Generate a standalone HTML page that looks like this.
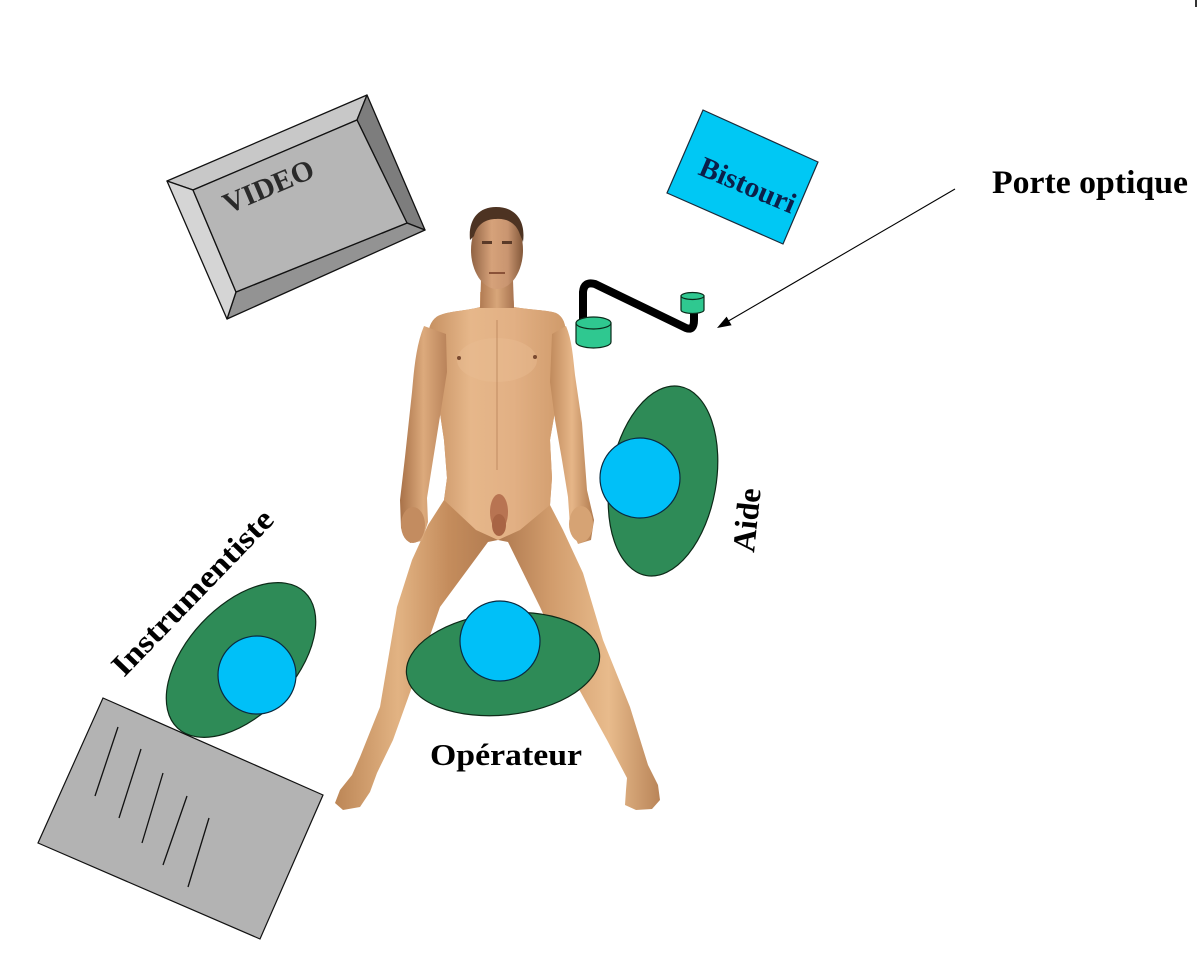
<!DOCTYPE html>
<html>
<head>
<meta charset="utf-8">
<style>
html,body{margin:0;padding:0;background:#fff;}
svg{display:block;}
text{font-family:"Liberation Serif",serif;font-weight:bold;}
</style>
</head>
<body>
<svg width="1199" height="955" viewBox="0 0 1199 955" xmlns="http://www.w3.org/2000/svg">
<defs>
<linearGradient id="skin" x1="395" y1="0" x2="610" y2="0" gradientUnits="userSpaceOnUse">
<stop offset="0" stop-color="#8e5e3a"/>
<stop offset="0.15" stop-color="#c58f60"/>
<stop offset="0.35" stop-color="#e6b78a"/>
<stop offset="0.55" stop-color="#e2b084"/>
<stop offset="0.8" stop-color="#cf9a6a"/>
<stop offset="1" stop-color="#9a6a42"/>
</linearGradient>
<linearGradient id="leg" x1="330" y1="0" x2="670" y2="0" gradientUnits="userSpaceOnUse">
<stop offset="0" stop-color="#b98252"/>
<stop offset="0.2" stop-color="#e2b383"/>
<stop offset="0.35" stop-color="#c48c5c"/>
<stop offset="0.5" stop-color="#b07a50"/>
<stop offset="0.65" stop-color="#d19c6c"/>
<stop offset="0.82" stop-color="#e8bb8c"/>
<stop offset="1" stop-color="#b07a4e"/>
</linearGradient>
<linearGradient id="face" x1="470" y1="0" x2="524" y2="0" gradientUnits="userSpaceOnUse">
<stop offset="0" stop-color="#8d5f40"/>
<stop offset="0.4" stop-color="#d6a27a"/>
<stop offset="0.7" stop-color="#c99570"/>
<stop offset="1" stop-color="#7e5436"/>
</linearGradient>
<linearGradient id="neck" x1="480" y1="0" x2="514" y2="0" gradientUnits="userSpaceOnUse">
<stop offset="0" stop-color="#b07a52"/>
<stop offset="0.5" stop-color="#d8a67a"/>
<stop offset="1" stop-color="#a87450"/>
</linearGradient>
<linearGradient id="larm" x1="400" y1="0" x2="447" y2="0" gradientUnits="userSpaceOnUse">
<stop offset="0" stop-color="#a87148"/>
<stop offset="0.5" stop-color="#dcaa7c"/>
<stop offset="1" stop-color="#b9835a"/>
</linearGradient>
<linearGradient id="rarm" x1="550" y1="0" x2="594" y2="0" gradientUnits="userSpaceOnUse">
<stop offset="0" stop-color="#c08a5c"/>
<stop offset="0.5" stop-color="#e6b688"/>
<stop offset="1" stop-color="#b07a4e"/>
</linearGradient>
</defs>

<!-- top-right tick -->
<line x1="1196" y1="0" x2="1196" y2="7" stroke="#333" stroke-width="2"/>

<!-- VIDEO box -->
<g stroke="#111" stroke-width="1.3" stroke-linejoin="round">
<polygon points="167,181 367,95 357,120 193,190" fill="#c8c8c8"/>
<polygon points="367,95 425,230 407,223 357,120" fill="#7d7d7d"/>
<polygon points="425,230 227,319 236,292 407,223" fill="#939393"/>
<polygon points="227,319 167,181 193,190 236,292" fill="#d5d5d5"/>
<polygon points="193,190 357,120 407,223 236,292" fill="#b6b6b6"/>
</g>
<text x="228" y="214" font-size="29" fill="#2a2a2a" transform="rotate(-23 228 214)" textLength="96" lengthAdjust="spacingAndGlyphs">VIDEO</text>

<!-- Bistouri -->
<polygon points="703,110 818,162 783,244 667,193" fill="#00c8f4" stroke="#1a2a3a" stroke-width="1.2"/>
<text x="697" y="174" font-size="29" fill="#0b1f4a" transform="rotate(23 697 174)" textLength="102" lengthAdjust="spacingAndGlyphs">Bistouri</text>

<!-- Porte optique label & arrow -->
<text x="992" y="193" font-size="33" fill="#000" textLength="196" lengthAdjust="spacingAndGlyphs">Porte optique</text>
<line x1="955" y1="189" x2="725" y2="323" stroke="#000" stroke-width="1.1"/>
<polygon points="717,328 731.6,325.2 726.6,316.6" fill="#000"/>

<!-- Human figure -->
<g>
<path d="M480,292 L513,292 L514,307 C530,310 548,310 556,313 C566,318 568,330 565,360 L557,400 L550,440 L552,478 L550,505
 L563,530 L583,573 L603,640 L630,707 L648,765 L658,785 L660,800 L652,809 L636,810 L625,805 L626,790 L627,778
 L607,740 L570,673 L540,607 L508,542 L498,540 L488,542
 L440,607 L417,673 L393,740 L377,773 L370,792 L360,807 L343,810 L335,803 L340,790 L352,775 L360,757
 L380,707 L397,607 L412,560 L428,525 L444,500 L447,478 L444,440 L438,400 L430,360 C426,335 428,322 438,316 C448,311 466,311 480,307 Z" fill="url(#leg)"/>
<path d="M480,292 L513,292 L514,307 C530,310 548,310 556,313 C566,318 568,330 565,360 L557,400 L550,440 L552,478 L550,505 L520,530 L498,540 L476,530 L444,500 L447,478 L444,440 L438,400 L430,360 C426,335 428,322 438,316 C448,311 466,311 480,307 Z" fill="url(#skin)"/>
<!-- left arm -->
<path d="M424,326 C416,345 414,370 412,392 L405,457 L400,500 L401,528 L410,543 L422,541 L428,522 L427,498 L433,460 L441,410 L447,372 L446,334 Z" fill="url(#larm)"/>
<!-- right arm -->
<path d="M566,326 C572,340 573,357 575,375 L582,423 L587,490 L594,520 L591,540 L578,544 L570,526 L568,497 L562,460 L555,420 L550,382 L552,334 Z" fill="url(#rarm)"/>
<!-- chest details -->
<ellipse cx="497" cy="360" rx="40" ry="22" fill="#e9bd92" opacity="0.45"/>
<circle cx="459" cy="358" r="2" fill="#7a4a30"/>
<circle cx="535" cy="357" r="2" fill="#7a4a30"/>
<line x1="497" y1="320" x2="497" y2="470" stroke="#b8835a" stroke-width="2" opacity="0.4"/>
<!-- genitals -->
<ellipse cx="499" cy="512" rx="9" ry="18" fill="#b87452"/>
<ellipse cx="499" cy="525" rx="7" ry="11" fill="#a86444"/>
<!-- neck -->
<path d="M481,280 L513,280 L514,308 L480,308 Z" fill="url(#neck)"/>
<!-- head -->
<ellipse cx="497" cy="250" rx="26" ry="39" fill="url(#face)"/>
<path d="M470,240 C468,220 478,207 496,207 C515,207 526,220 523,242 L519,232 C515,222 505,218 496,219 C486,219 477,224 474,236 Z" fill="#4d3322"/>
<rect x="482" y="241" width="10" height="3" fill="#5a3a28"/>
<rect x="502" y="241" width="10" height="3" fill="#5a3a28"/>
<rect x="489" y="272" width="16" height="2" fill="#8a5238"/>
<!-- hands -->
<ellipse cx="413" cy="525" rx="12" ry="18" fill="#c38c60"/>
<ellipse cx="581" cy="524" rx="12" ry="18" fill="#d6a374"/>
</g>

<!-- Porte optique device -->
<path d="M583,320 L583,292 Q584,281 595,284 L686,328 Q694,331 694,320 L694,310" fill="none" stroke="#000" stroke-width="8" stroke-linejoin="round" stroke-linecap="round"/>
<g stroke="#0a2a1a" stroke-width="1.2">
<path d="M576,323 L576,342 A17.5,6 0 0 0 611,342 L611,323 Z" fill="#2fc890"/>
<ellipse cx="593.5" cy="323" rx="17.5" ry="6" fill="#2fc890"/>
<path d="M681,296 L681,310 A11.5,3.5 0 0 0 704,310 L704,296 Z" fill="#2fc890"/>
<ellipse cx="692.5" cy="296" rx="11.5" ry="3.5" fill="#2fc890"/>
</g>

<!-- Aide -->
<ellipse cx="663" cy="481" rx="53" ry="96" transform="rotate(10 663 481)" fill="#2e8b57" stroke="#0d2a18" stroke-width="1.2"/>
<circle cx="640" cy="478" r="40" fill="#00c0f8" stroke="#0a2a40" stroke-width="1.2"/>
<text x="754" y="553" font-size="32" fill="#000" transform="rotate(-84 754 553)" textLength="64" lengthAdjust="spacingAndGlyphs">Aide</text>

<!-- Opérateur -->
<ellipse cx="503" cy="664" rx="97" ry="51" transform="rotate(-6 503 664)" fill="#2e8b57" stroke="#0d2a18" stroke-width="1.2"/>
<circle cx="500" cy="641" r="40" fill="#00c0f8" stroke="#0a2a40" stroke-width="1.2"/>
<text x="430" y="765" font-size="31" fill="#000" textLength="152" lengthAdjust="spacingAndGlyphs">Opérateur</text>

<!-- Instrumentiste -->
<ellipse cx="241" cy="660" rx="93" ry="54" transform="rotate(-47 241 660)" fill="#2e8b57" stroke="#0d2a18" stroke-width="1.2"/>
<circle cx="257" cy="675" r="39" fill="#00c0f8" stroke="#0a2a40" stroke-width="1.2"/>
<text x="124" y="678" font-size="31" fill="#000" transform="rotate(-46 124 678)" textLength="218" lengthAdjust="spacingAndGlyphs">Instrumentiste</text>

<!-- Instrument table -->
<polygon points="103,698 323,795 260,939 38,843" fill="#b3b3b3" stroke="#111" stroke-width="1.2"/>
<g stroke="#111" stroke-width="1.3">
<line x1="118" y1="727" x2="95" y2="796"/>
<line x1="141" y1="749" x2="119" y2="818"/>
<line x1="163" y1="773" x2="142" y2="843"/>
<line x1="187" y1="796" x2="163" y2="865"/>
<line x1="209" y1="818" x2="188" y2="887"/>
</g>
</svg>
</body>
</html>
